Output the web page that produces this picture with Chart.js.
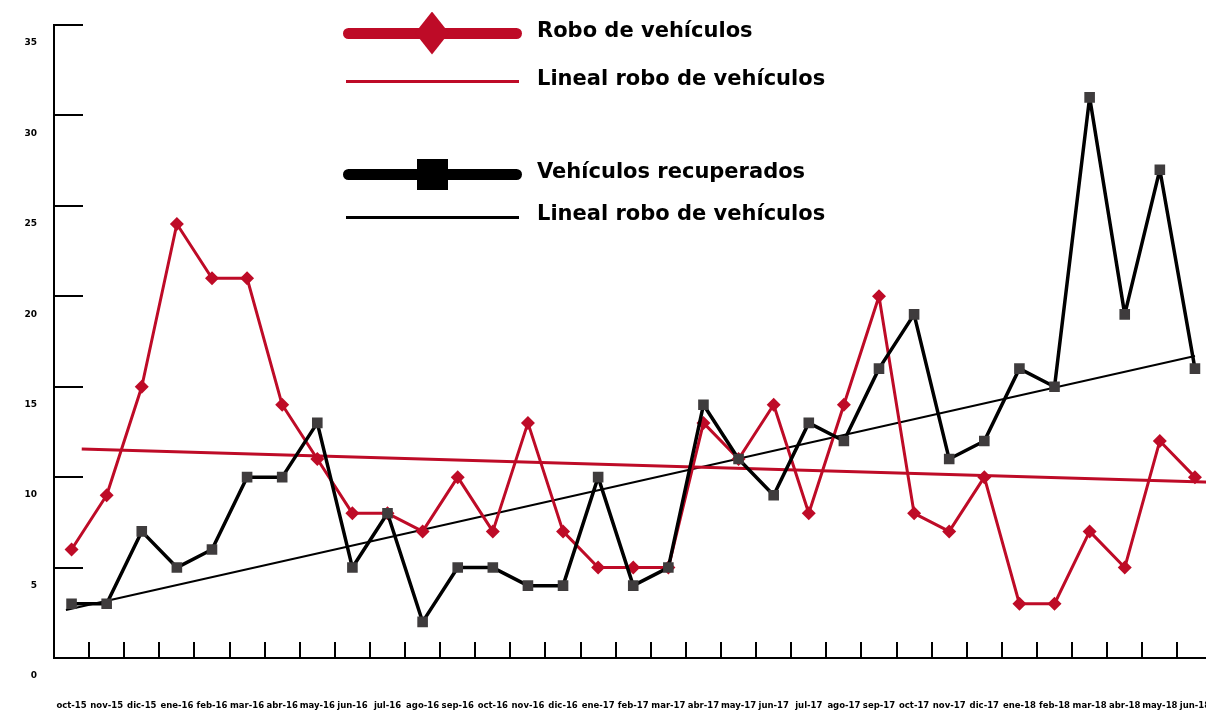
<!DOCTYPE html>
<html>
<head>
<meta charset="utf-8">
<script src="https://cdn.jsdelivr.net/npm/chart.js@4"></script>
<style>
  html, body { margin:0; padding:0; background:#fff; overflow:hidden; }
  #wrap { position:relative; width:1220px; height:710px; }
  #ch { position:absolute; left:0; top:0; }
  .leg { position:absolute; }
  .txt { position:absolute; left:537px; font:bold 21px 'DejaVu Sans'; line-height:25px; color:#000; white-space:nowrap; }
  .diamond { clip-path:polygon(50% 0, 100% 50%, 50% 100%, 0 50%); }
</style>
</head>
<body>
<div id="wrap">
  <canvas id="ch" width="1220" height="710" style="width:1220px;height:710px"></canvas>
  <!-- legend -->
  <div class="leg" style="left:343px;top:27.5px;width:179px;height:11px;border-radius:6px;background:#be0b27"></div>
  <div class="leg diamond" style="left:415px;top:11.5px;width:34px;height:43px;background:#be0b27"></div>
  <div class="txt" style="top:17.9px">Robo de vehículos</div>
  <div class="leg" style="left:346px;top:79.5px;width:173px;height:3px;background:#be0b27"></div>
  <div class="txt" style="top:65.9px">Lineal robo de vehículos</div>
  <div class="leg" style="left:343px;top:168.5px;width:179px;height:11px;border-radius:6px;background:#000"></div>
  <div class="leg" style="left:417px;top:159px;width:31px;height:31px;background:#000"></div>
  <div class="txt" style="top:158.9px">Vehículos recuperados</div>
  <div class="leg" style="left:346px;top:215.5px;width:173px;height:3px;background:#000"></div>
  <div class="txt" style="top:200.9px">Lineal robo de vehículos</div>
</div>
<script>
// Categories
const meses = ['oct-15','nov-15','dic-15','ene-16','feb-16','mar-16','abr-16','may-16','jun-16','jul-16','ago-16',
  'sep-16','oct-16','nov-16','dic-16','ene-17','feb-17','mar-17','abr-17','may-17','jun-17','jul-17',
  'ago-17','sep-17','oct-17','nov-17','dic-17','ene-18','feb-18','mar-18','abr-18','may-18','jun-18'];

// Series
const roboVehiculos = [6,9,15,24,21,21,14,11,8,8,7,10,7,13,7,5,5,5,13,11,14,8,14,20,8,7,10,3,3,7,5,12,10];
const vehiculosRecuperados = [3,3,7,5,6,10,10,13,5,8,2,5,5,4,4,10,4,5,14,11,9,13,12,16,19,11,12,16,15,31,19,27,16];

// Trend line endpoints, x in category index units
const tendenciaRobo = [{x:0.29, y:11.56}, {x:32.5, y:9.72}];
const tendenciaRecuperados = [{x:-0.16, y:2.65}, {x:32, y:16.7}];

// Y axis
const yMin = 0, yMax = 35, yStep = 5;

const RED = '#be0b27';
const SQ = '#3f3c3d';

// short inward tick marks on both axes
const tickMarks = {
  id: 'tickMarks',
  beforeDatasetsDraw(chart) {
    const {ctx, chartArea: a, scales: {x, y}} = chart;
    ctx.save();
    ctx.strokeStyle = '#000';
    ctx.lineWidth = 2;
    ctx.beginPath();
    y.ticks.forEach(t => {
      if (t.value <= yMin) return;
      const py = Math.round(y.getPixelForValue(t.value));
      ctx.moveTo(a.left, py); ctx.lineTo(a.left + 29, py);
    });
    for (let i = 1; i < meses.length; i++) {
      const px = Math.round((x.getPixelForValue(i - 1) + x.getPixelForValue(i)) / 2);
      ctx.moveTo(px, a.bottom - 16); ctx.lineTo(px, a.bottom);
    }
    ctx.stroke();
    ctx.restore();
  }
};

new Chart(document.getElementById('ch'), {
  type: 'line',
  data: {
    labels: meses,
    datasets: [
      {label:'Vehículos recuperados', data:vehiculosRecuperados, borderColor:'#000', borderWidth:3.5, borderJoinStyle:'round',
        pointStyle:'rect', pointRadius:7.5, pointBackgroundColor:SQ, pointBorderWidth:0, tension:0, order:0},
      {label:'Robo de vehículos', data:roboVehiculos, borderColor:RED, borderWidth:3, borderJoinStyle:'round',
        pointStyle:'rectRot', pointRadius:7, pointBackgroundColor:RED, pointBorderWidth:0, tension:0, order:1},
      {label:'Lineal robo de vehículos', data:tendenciaRobo, xAxisID:'xt', borderColor:RED, borderWidth:3,
        pointRadius:0, tension:0, order:2},
      {label:'Lineal robo de vehículos', data:tendenciaRecuperados, xAxisID:'xt', borderColor:'#000', borderWidth:2,
        pointRadius:0, tension:0, order:2},
    ]
  },
  options: {
    responsive:false, animation:false,
    layout:{padding:{top:25, left:0, right:0, bottom:0}},
    plugins:{legend:{display:false}, tooltip:{enabled:false}},
    scales:{
      x:{
        offset:true,
        grid:{display:false, drawTicks:false},
        border:{display:true, color:'#000', width:2},
        ticks:{autoSkip:false, maxRotation:0, padding:43, color:'#000', font:{family:'DejaVu Sans', size:8.5, weight:'bold'}},
        afterFit: s => { s.height = 52; s.paddingLeft = 0; s.paddingRight = 0; }
      },
      xt:{type:'linear', display:false, min:-0.5, max:meses.length - 0.5},
      y:{
        min:yMin, max:yMax,
        grid:{display:false, drawTicks:false},
        border:{display:true, color:'#000', width:2},
        ticks:{stepSize:yStep, padding:17, labelOffset:18, color:'#000', font:{family:'DejaVu Sans', size:9, weight:'bold'}},
        afterFit: s => { s.width = 54; s.paddingTop = 0; s.paddingBottom = 0; }
      }
    }
  },
  plugins:[tickMarks]
});
</script>
</body>
</html>
